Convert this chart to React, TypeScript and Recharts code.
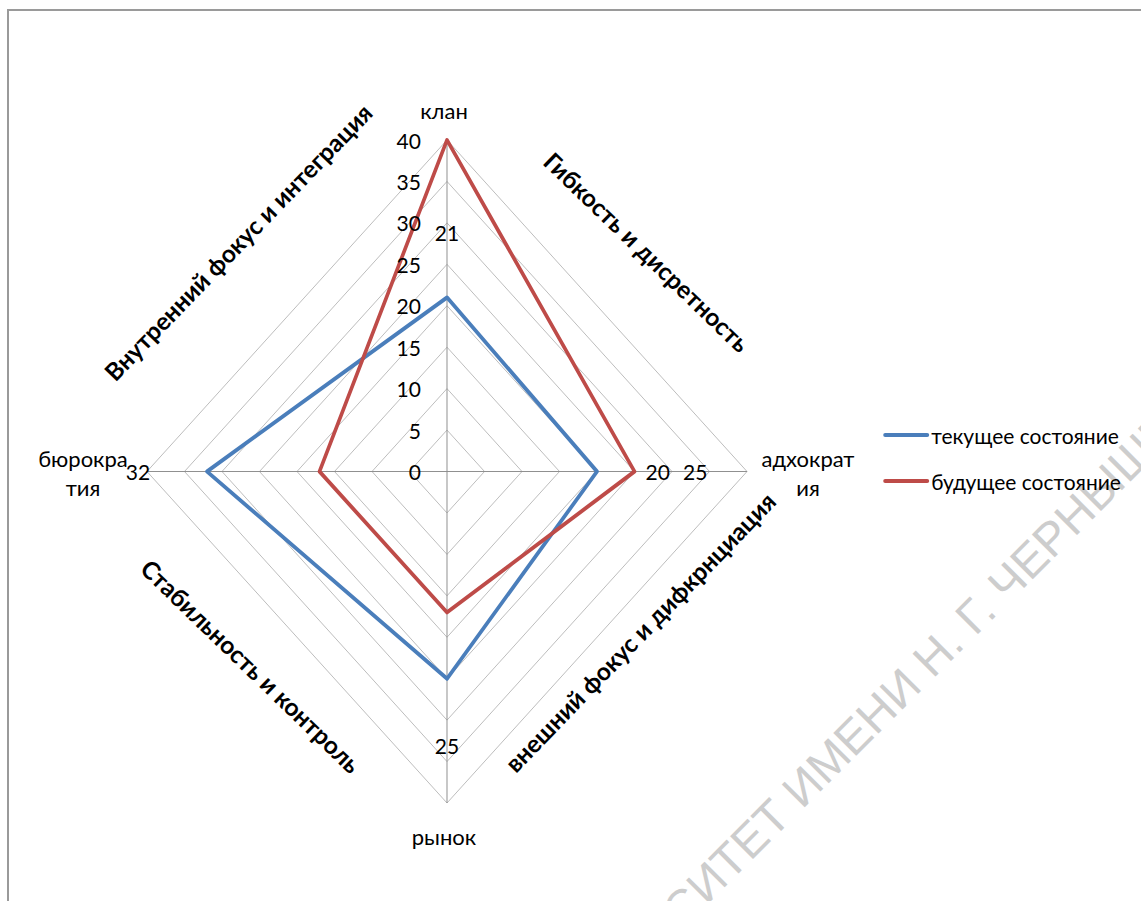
import { RadarChart, Radar, PolarGrid, PolarAngleAxis, PolarRadiusAxis, LabelList, Legend } from 'recharts';

const categories = ['клан', 'адхократия', 'рынок', 'бюрократия'];
const currentState = [21, 20, 25, 32];
const futureState = [40, 25, 17, 17];
const radiusTicks = [0, 5, 10, 15, 20, 25, 30, 35, 40];
const seriesNames = ['текущее состояние', 'будущее состояние'];
const quadrantTitles = [
  'Внутренний фокус и интеграция',
  'Гибкость и дисретность',
  'Стабильность и контроль',
  'внешний фокус и дифкрнциация',
];

// side categories wrap onto two lines
const wrappedNames: Record<string, string[]> = {
  адхократия: ['адхократ', 'ия'],
  бюрократия: ['бюрокра', 'тия'],
};

const rows = categories.map((name, i) => ({ name, current: currentState[i], future: futureState[i] }));

const FONT = 'Lato, "Open Sans", sans-serif';
const SX = 0.905; // plot is squeezed horizontally
const PAD = 120; // room on the left of the svg for the side label
const PCX = 447; // centre on the page
const CX = PCX + PAD; // centre inside the svg
const CY = 471.5;
const R = 331.5;
const W = 1400;
const H = 901;

const BLUE = '#4a7ebb';
const RED = '#be4b48';

// where each value label sits along its spoke, in axis units
const currentLabelAt = [28.8, 28.1, 33.1, 41.2];
const futureLabelAt: (number | null)[] = [null, 33.1, null, null];

// rotated quadrant captions
const titlePos = [
  { x: 238, y: 242, a: -46 },
  { x: 647, y: 252, a: 44 },
  { x: 251, y: 666, a: 44 },
  { x: 640, y: 632, a: -46 },
];

// page x -> x inside the squeezed svg
const toSvgX = (px: number) => CX + (px - PCX) / SX;
const unsquash = (x: number, y: number) => `translate(${x},${y}) scale(${1 / SX},1)`;

const AngleTick = (props: any) => {
  const { x, y, payload } = props;
  const dx = x - CX;
  const dy = y - CY;
  const lines = wrappedNames[payload.value] ?? [payload.value];
  let px: number;
  let py: number;
  if (Math.abs(dx) < Math.abs(dy)) {
    px = PCX - 3;
    py = dy < 0 ? CY - R - 30 : CY + R + 33;
  } else {
    px = dx > 0 ? PCX + R * SX + 61 : PCX - R * SX - 64;
    py = CY - 14;
  }
  return (
    <text
      transform={unsquash(toSvgX(px), py)}
      textAnchor="middle"
      dominantBaseline="central"
      fontFamily={FONT}
      fontSize={22}
      fill="#000"
    >
      {lines.map((l, i) => (
        <tspan key={l} x={0} dy={i === 0 ? 0 : 29}>
          {l}
        </tspan>
      ))}
    </text>
  );
};

const RadiusTick = (props: any) => (
  <text
    transform={unsquash(toSvgX(PCX - 26), props.y)}
    textAnchor="end"
    dominantBaseline="central"
    fontFamily={FONT}
    fontSize={21}
    fill="#000"
  >
    {props.payload.value}
  </text>
);

const valueLabel = (at: (number | null)[]) => (props: any) => {
  const { x, y, value, index } = props;
  const r = at[index];
  if (r == null || !value) return null;
  const k = r / value;
  return (
    <text
      transform={unsquash(CX + (x - CX) * k, CY + (y - CY) * k)}
      textAnchor="middle"
      dominantBaseline="central"
      fontFamily={FONT}
      fontSize={21}
      fill="#000"
    >
      {value}
    </text>
  );
};

const LegendBox = ({ payload }: any) => {
  const items = [...(payload ?? [])].sort(
    (a: any, b: any) => seriesNames.indexOf(a.value) - seriesNames.indexOf(b.value),
  );
  return (
    <div style={{ fontFamily: FONT, fontSize: 21, color: '#000' }}>
      {items.map((p: any) => (
        <div key={p.value} style={{ display: 'flex', alignItems: 'center', height: 46 }}>
          <span style={{ display: 'inline-block', width: 46, height: 4, background: p.color, borderRadius: 2 }} />
          <span style={{ marginLeft: 2, whiteSpace: 'nowrap' }}>{p.value}</span>
        </div>
      ))}
    </div>
  );
};

export default function App() {
  return (
    <div
      style={{
        position: 'absolute',
        left: 0,
        top: 0,
        width: 1141,
        height: 901,
        overflow: 'hidden',
        background: '#fff',
      }}
    >
      <div
        style={{
          position: 'absolute',
          left: 7,
          top: 9,
          width: 1200,
          height: 1000,
          border: '2px solid #9a9a9a',
        }}
      />

      {/* watermark sits under the chart */}
      <svg
        width={1141}
        height={901}
        style={{ position: 'absolute', left: 0, top: 0, pointerEvents: 'none' }}
      >
        <g transform="translate(802,810) rotate(-45)" fill="#cdcdcd" fontFamily='"Liberation Sans", sans-serif' fontSize={47}>
          <text x={-13} textAnchor="end">УНИВЕРСИТЕТ</text>
          <text x={0}>ИМЕНИ Н. Г. ЧЕРНЫШЕВСКОГО</text>
        </g>
      </svg>

      <div
        style={{
          position: 'absolute',
          left: -PAD,
          top: 0,
          width: W,
          height: H,
          transform: `scaleX(${SX})`,
          transformOrigin: `${CX}px 0`,
        }}
      >
        <RadarChart
          width={W}
          height={H}
          data={rows}
          cx={CX}
          cy={CY}
          outerRadius={R}
          margin={{ top: 0, right: 0, bottom: 0, left: 0 }}
        >
          <PolarGrid gridType="polygon" radialLines={false} stroke="#b9b9b9" />
          <PolarGrid gridType="polygon" polarRadius={[0]} stroke="#8a8a8a" />
          <PolarAngleAxis dataKey="name" tick={<AngleTick />} axisLine={false} tickLine={false} />
          <PolarRadiusAxis
            angle={90}
            domain={[0, 40]}
            ticks={radiusTicks as any}
            tick={<RadiusTick />}
            axisLine={false}
            tickLine={false}
          />
          <Radar
            dataKey="current"
            name={seriesNames[0]}
            stroke={BLUE}
            strokeWidth={4}
            strokeLinejoin="round"
            fill="none"
            fillOpacity={0}
            dot={false}
            isAnimationActive={false}
          >
            <LabelList dataKey="current" content={valueLabel(currentLabelAt)} />
          </Radar>
          <Radar
            dataKey="future"
            name={seriesNames[1]}
            stroke={RED}
            strokeWidth={4}
            strokeLinejoin="round"
            fill="none"
            fillOpacity={0}
            dot={false}
            isAnimationActive={false}
          >
            <LabelList dataKey="future" content={valueLabel(futureLabelAt)} />
          </Radar>
          <Legend
            layout="vertical"
            align="center"
            verticalAlign="middle"
            content={<LegendBox />}
            wrapperStyle={{
              left: toSvgX(883),
              top: 412,
              width: 300,
              transform: `scaleX(${1 / SX})`,
              transformOrigin: '0 0',
            }}
          />
        </RadarChart>
      </div>

      {quadrantTitles.map((t, i) => (
        <div
          key={t}
          style={{
            position: 'absolute',
            left: titlePos[i].x,
            top: titlePos[i].y,
            transform: `translate(-50%, -50%) rotate(${titlePos[i].a}deg)`,
            whiteSpace: 'nowrap',
            fontFamily: FONT,
            fontWeight: 'bold',
            fontSize: 24.5,
            color: '#000',
          }}
        >
          {t}
        </div>
      ))}
    </div>
  );
}
